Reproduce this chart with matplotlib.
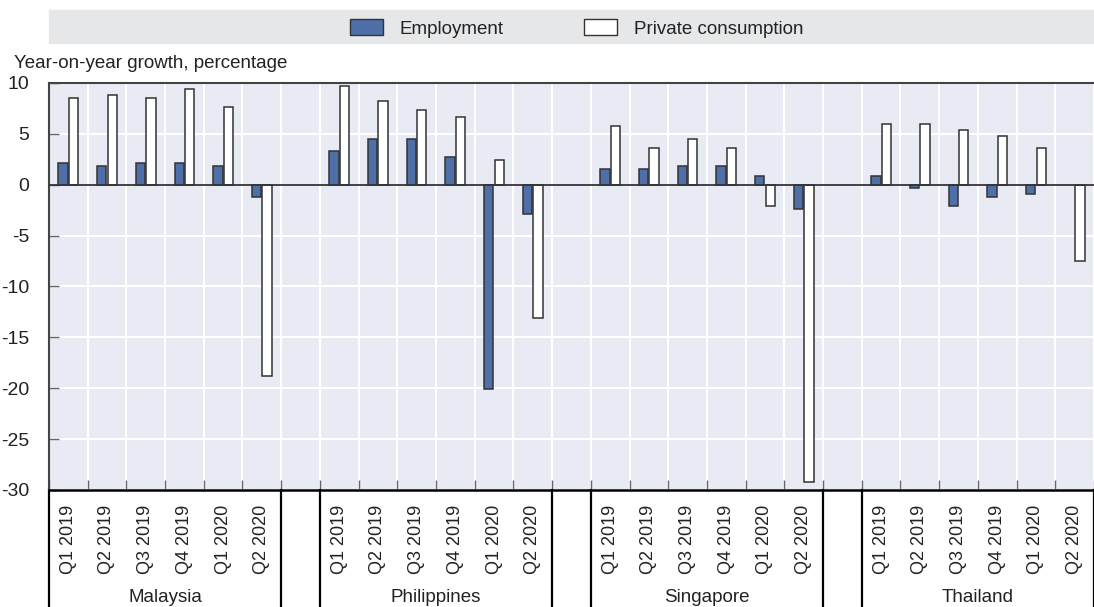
import matplotlib
matplotlib.use('Agg')
import matplotlib.pyplot as plt
import matplotlib.transforms as mtransforms
from matplotlib.patches import Patch, Rectangle
import numpy as np

# data
countries = ['Malaysia', 'Philippines', 'Singapore', 'Thailand']
quarters = ['Q1 2019', 'Q2 2019', 'Q3 2019', 'Q4 2019', 'Q1 2020', 'Q2 2020']
employment = {
    'Malaysia':    [2.1, 1.8, 2.1, 2.1, 1.8, -1.2],
    'Philippines': [3.3, 4.5, 4.5, 2.7, -20.1, -2.9],
    'Singapore':   [1.5, 1.5, 1.8, 1.8, 0.9, -2.4],
    'Thailand':    [0.9, -0.3, -2.1, -1.2, -0.9, np.nan],
}
consumption = {
    'Malaysia':    [8.5, 8.8, 8.5, 9.4, 7.6, -18.8],
    'Philippines': [9.7, 8.2, 7.3, 6.7, 2.4, -13.1],
    'Singapore':   [5.8, 3.6, 4.5, 3.6, -2.1, -29.2],
    'Thailand':    [6.0, 6.0, 5.4, 4.8, 3.6, -7.5],
}

# narrow fonts first, whichever is installed
plt.rcParams['font.family'] = ['Liberation Sans Narrow', 'DejaVu Sans Condensed', 'Liberation Sans']
plt.rcParams['axes.unicode_minus'] = False
txt = '#222222'
emp_col = '#4f6fa9'
edge = '#333333'

fig = plt.figure(figsize=(10.94, 6.07), dpi=100)
ax = fig.add_axes([0.0447, 0.1928, 0.9553, 0.6705])
ax.set_facecolor('#e9ebf4')

# slot positions: 6 quarters per country and one empty slot between countries
pos, labels, emp_vals, pc_vals = [], [], [], []
for i, c in enumerate(countries):
    for j, q in enumerate(quarters):
        pos.append(i * 7 + j)
        labels.append(q)
        emp_vals.append(employment[c][j])
        pc_vals.append(consumption[c][j])
pos = np.array(pos, dtype=float)

w = 0.24
ax.bar(pos - 0.135, emp_vals, w, color=emp_col, edgecolor=edge, linewidth=1.1, zorder=3)
ax.bar(pos + 0.135, pc_vals, w, color='white', edgecolor=edge, linewidth=1.1, zorder=3)
ax.axhline(0, color=edge, linewidth=1.3, zorder=4)

ax.set_ylim(-30, 10)
ax.set_xlim(-0.5, 26.16)
ax.set_yticks(np.arange(-30, 11, 5))
ax.set_xticks(pos)
ax.set_xticklabels(labels, rotation=90, fontsize=13, color=txt)
ax.set_xticks(np.arange(-0.5, 27, 1), minor=True)
ax.tick_params(axis='x', which='major', length=0, pad=11)
ax.tick_params(axis='x', which='minor', direction='in', length=7, width=1, color='#666666')
ax.tick_params(axis='y', direction='in', length=7, width=1, color='#666666',
               labelsize=14, labelcolor=txt, pad=14)

ax.grid(True, axis='y', which='major', color='white', linewidth=1.5, zorder=0)
ax.grid(True, axis='x', which='minor', color='white', linewidth=1.5, zorder=0)
ax.set_axisbelow(True)

for s in ['top', 'left']:
    ax.spines[s].set_color('#444444')
    ax.spines[s].set_linewidth(1.5)
ax.spines['bottom'].set_color('black')
ax.spines['bottom'].set_linewidth(1.8)
ax.spines['right'].set_visible(False)

# country separators below the axis, and country names
trans = mtransforms.blended_transform_factory(ax.transData, ax.transAxes)
for i in range(len(countries)):
    for b in (i * 7 - 0.5, i * 7 + 5.5):
        ax.plot([b, b], [0, -0.29], transform=trans, color='black', linewidth=1.6, clip_on=False)
    ax.text(i * 7 + 2.5, -0.265, countries[i], transform=trans, ha='center', va='center',
            fontsize=13.5, color=txt)

# legend band
fig.patches.append(Rectangle((0.0447, 0.9292), 1.0, 0.0544, transform=fig.transFigure,
                             color='#e6e7e8', zorder=0))
handles = [Patch(facecolor=emp_col, edgecolor=edge, linewidth=1.0),
           Patch(facecolor='white', edgecolor=edge, linewidth=1.0)]
fig.legend(handles, ['Employment', 'Private consumption'], loc='center',
           bbox_to_anchor=(0.527, 0.953), ncol=2, frameon=False, fontsize=13.5,
           handlelength=1.76, handleheight=0.9, handletextpad=0.9, columnspacing=4.3,
           labelcolor=txt)

fig.text(0.0128, 1 - 64 / 607, 'Year-on-year growth, percentage', ha='left', va='center',
         fontsize=13.5, color=txt)

plt.savefig('out.png', dpi=100)
